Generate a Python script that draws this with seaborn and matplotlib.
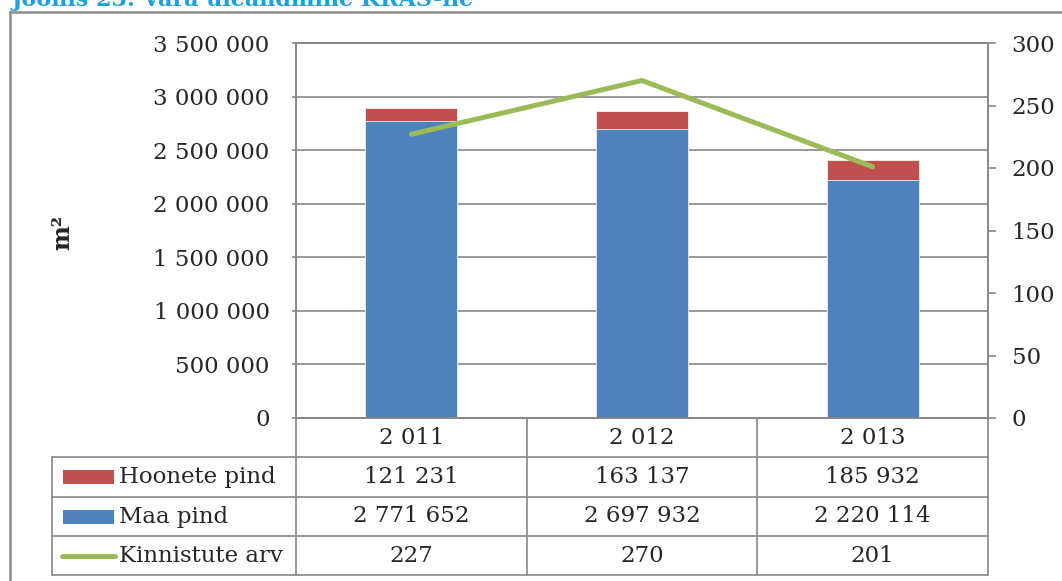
import matplotlib
matplotlib.use("Agg")
import matplotlib.pyplot as plt
from matplotlib.lines import Line2D
from matplotlib.patches import Rectangle
import seaborn as sns
import pandas as pd

# Data
aastad = [2011, 2012, 2013]
hoonete_pind = [121231, 163137, 185932]
maa_pind = [2771652, 2697932, 2220114]
kinnistute_arv = [227, 270, 201]
sarjad = ["Hoonete pind", "Maa pind", "Kinnistute arv"]
pealkiri = "Joonis 23: Vara üleandmine KRAS-ile"

C_RED = "#C0504D"
C_BLUE = "#4F81BD"
C_GREEN = "#9BBB59"
C_GRID = "#878787"
C_TITLE = "#1F9FDB"

sns.set_theme(style="white")
plt.rcParams["font.family"] = ["DejaVu Serif", "DejaVu Sans"]
FS = 16.5


def fmt(v):
    return f"{v:,}".replace(",", " ")


W, H = 1062, 581
fig = plt.figure(figsize=(W / 100, H / 100), dpi=100)


def fx(px):
    return px / W


def fy(py):
    return 1 - py / H


# plot area in pixel units
L, R, T, B = 296, 988, 43, 418
ax = fig.add_axes([fx(L), fy(B), fx(R - L), (B - T) / H])

df = pd.DataFrame({
    "aasta": [fmt(a) for a in aastad],
    "hoonete": hoonete_pind,
    "maa": maa_pind,
})
df["kokku"] = df["maa"] + df["hoonete"]

# stacked bars: total (red) behind, land area (blue) in front
sns.barplot(data=df, x="aasta", y="kokku", color=C_RED, saturation=1,
            width=0.4, edgecolor="#f0f0f0", linewidth=0.6, ax=ax)
sns.barplot(data=df, x="aasta", y="maa", color=C_BLUE, saturation=1,
            width=0.4, edgecolor="#e8eef7", linewidth=0.6, ax=ax)

ax.set_xlim(-0.5, len(aastad) - 0.5)
ax.set_ylim(0, 3_500_000)
yt = list(range(0, 3_500_001, 500_000))
ax.set_yticks(yt)
ax.set_yticklabels([fmt(v) for v in yt], fontsize=FS)
ax.set_xticks([])
ax.set_xlabel("")
ax.set_ylabel("")
ax.set_axisbelow(True)
ax.yaxis.grid(True, color=C_GRID, linewidth=1.2)
ax.tick_params(axis="y", which="major", direction="out", length=3,
               width=1.2, color=C_GRID, pad=16, left=True)
for s in ax.spines.values():
    s.set_color(C_GRID)
    s.set_linewidth(1.2)

ax2 = ax.twinx()
sns.lineplot(x=list(range(len(aastad))), y=kinnistute_arv, color=C_GREEN,
             linewidth=3.6, solid_capstyle="round", ax=ax2)
ax2.set_ylim(0, 300)
ax2.set_yticks(range(0, 301, 50))
ax2.set_yticklabels([str(v) for v in range(0, 301, 50)], fontsize=FS)
ax2.tick_params(axis="y", direction="out", length=6, width=1.2,
                color=C_GRID, pad=11, right=True)
ax2.set_ylabel("")
ax2.grid(False)
for s in ax2.spines.values():
    s.set_color(C_GRID)
    s.set_linewidth(1.2)

# data table below the plot
n = len(aastad)
col = (R - L) / n
LEG = 52
rows = [418, 457, 497, 536, 575]


def hline(x0, x1, y, lw=1.2, color=C_GRID):
    fig.add_artist(Line2D([fx(x0), fx(x1)], [fy(y), fy(y)], color=color,
                          linewidth=lw, transform=fig.transFigure))


def vline(x, y0, y1, lw=1.2, color=C_GRID):
    fig.add_artist(Line2D([fx(x), fx(x)], [fy(y0), fy(y1)], color=color,
                          linewidth=lw, transform=fig.transFigure))


hline(L, R, rows[0])
for y in rows[1:]:
    hline(LEG, R, y)
for k in range(n + 1):
    vline(L + k * col, rows[0], rows[-1])
vline(LEG, rows[1], rows[-1])

for k, a in enumerate(aastad):
    fig.text(fx(L + (k + 0.5) * col), fy((rows[0] + rows[1]) / 2), fmt(a),
             ha="center", va="center", fontsize=FS)

table_vals = [hoonete_pind, maa_pind, kinnistute_arv]
for r, vals in enumerate(table_vals):
    yc = (rows[r + 1] + rows[r + 2]) / 2
    for k, v in enumerate(vals):
        fig.text(fx(L + (k + 0.5) * col), fy(yc), fmt(v),
                 ha="center", va="center", fontsize=FS)
    fig.text(fx(119), fy(yc), sarjad[r], ha="left", va="center", fontsize=FS)

# legend keys
for r, c in enumerate([C_RED, C_BLUE]):
    yc = (rows[r + 1] + rows[r + 2]) / 2
    fig.add_artist(Rectangle((fx(63), fy(yc + 7)), fx(114) - fx(63), 14 / H,
                             facecolor=c, edgecolor="none",
                             transform=fig.transFigure))
yc = (rows[3] + rows[4]) / 2
fig.add_artist(Line2D([fx(62), fx(115)], [fy(yc), fy(yc)], color=C_GREEN,
                      linewidth=3.6, solid_capstyle="round",
                      transform=fig.transFigure))

# axis unit label
fig.text(fx(62), fy(232), "m²", rotation=90, ha="center", va="center",
         fontsize=17, fontweight="bold")

# outer frame
hline(10, W, 12, lw=1.8, color="#8c8c8c")
vline(10, 12, H, lw=1.8, color="#8c8c8c")

# caption, running off the top edge
fig.text(fx(12), fy(6), pealkiri, ha="left", va="baseline", fontsize=16,
         fontweight="bold", color=C_TITLE)

fig.savefig("out.png", dpi=100)
